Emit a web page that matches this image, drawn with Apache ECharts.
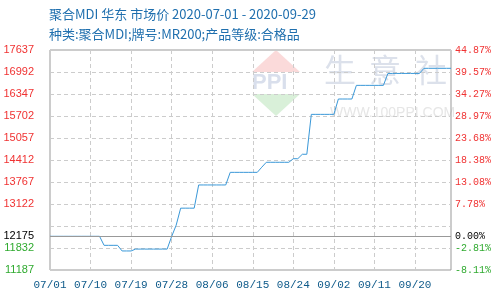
<!DOCTYPE html>
<html>
<head>
<meta charset="utf-8">
<script src="https://cdn.jsdelivr.net/npm/echarts@6/dist/echarts.min.js"></script>
<style>
html,body{margin:0;padding:0;background:#fff;}
#c{width:500px;height:300px;}
</style>
</head>
<body>
<div id="c"></div>
<script>
var titleText = '聚合MDI 华东 市场价 2020-07-01 - 2020-09-29';
var subText = '种类:聚合MDI;牌号:MR200;产品等级:合格品';

var categories = [
 '07/01','07/02','07/03','07/04','07/05','07/06','07/07','07/08','07/09','07/10',
 '07/11','07/12','07/13','07/14','07/15','07/16','07/17','07/18','07/19','07/20',
 '07/21','07/22','07/23','07/24','07/25','07/26','07/27','07/28','07/29','07/30','07/31',
 '08/01','08/02','08/03','08/04','08/05','08/06','08/07','08/08','08/09','08/10',
 '08/11','08/12','08/13','08/14','08/15','08/16','08/17','08/18','08/19','08/20',
 '08/21','08/22','08/23','08/24','08/25','08/26','08/27','08/28','08/29','08/30','08/31',
 '09/01','09/02','09/03','09/04','09/05','09/06','09/07','09/08','09/09','09/10',
 '09/11','09/12','09/13','09/14','09/15','09/16','09/17','09/18','09/19','09/20',
 '09/21','09/22','09/23','09/24','09/25','09/26','09/27','09/28'
];

var prices = [
 12175,12175,12175,12175,12175,12175,12175,12175,12175,12175,12175,12175,
 11910,11910,11910,11910,
 11745,11745,11745,
 11800,11800,11800,11800,11800,11800,11800,11800,
 12170,
 12500,
 13000,13000,13000,13000,
 13680,13680,13680,13680,13680,13680,13680,
 14050,14050,14050,14050,14050,14050,14050,
 14200,
 14345,14345,14345,14345,14345,14345,
 14450,14450,
 14580,14580,
 15750,15750,15750,15750,15750,15750,
 16200,16200,16200,16200,
 16600,16600,16600,16600,16600,16600,16600,
 16950,16950,16950,16950,16950,16950,16950,16950,
 17100,17100,17100,17100,17100,17100,17100
];

var basePrice = 12175;
var basePriceLabel = '12175';
var basePctLabel = '0.00%';
var yMin = 11187, yMax = 17637, yStep = 645;
var leftTickLabels = ['11187','11832','','13122','13767','14412','15057','15702','16347','16992','17637'];
var rightTickLabels = ['-8.11%','-2.81%','','7.78%','13.08%','18.38%','23.68%','28.97%','34.27%','39.57%','44.87%'];

var RED = '#f03232', GREEN = '#2faa2f', BLACK = '#000';
function tickIdx(v){ return Math.round((Number(v) - yMin) / yStep); }
function tickColor(v){ v = Number(v); return v > basePrice ? RED : (v < basePrice ? GREEN : BLACK); }

var chart = echarts.init(document.getElementById('c'), null, {renderer:'canvas'});
var lblFont = 'Liberation Sans';
var monoFont = 'Liberation Mono';
var wmFont = '32px "Noto Sans CJK SC"';
var titleColor = '#1f6fae';

chart.setOption({
  animation: false,
  backgroundColor: '#fff',
  graphic: [
    {type:'polygon', z:-10, silent:true, shape:{points:[[252,72],[276,50],[300,72]]}, style:{fill:'#fbdada'}},
    {type:'polygon', z:-10, silent:true, shape:{points:[[252,94],[276,116],[300,94]]}, style:{fill:'#d9f0d9'}},
    {type:'text', z:-10, silent:true, left:252, top:72, style:{text:'PPI', font:'bold 22px "Liberation Sans"', fill:'#d9dfec'}},
    {type:'text', z:-10, silent:true, left:324, top:54, style:{text:'生', font:wmFont, fill:'#dce1eb'}},
    {type:'text', z:-10, silent:true, left:369, top:54, style:{text:'意', font:wmFont, fill:'#dce1eb'}},
    {type:'text', z:-10, silent:true, left:415, top:54, style:{text:'社', font:wmFont, fill:'#dce1eb'}},
    {type:'text', z:-10, silent:true, left:330, top:106, style:{text:'WWW.100PPI.COM', font:'14px "Liberation Sans"', fill:'#e6e6e6'}},
    {type:'text', z:10, silent:true, left:49, top:8, style:{text:titleText, font:'13px "Noto Sans CJK SC"', fill:titleColor}},
    {type:'text', z:10, silent:true, left:49, top:28, style:{text:subText, font:'13px "Noto Sans CJK SC"', fill:titleColor}}
  ],
  grid: {left:50, right:49, top:50, bottom:30, show:true, borderColor:'#999', borderWidth:1, backgroundColor:'transparent'},
  xAxis: {
    type:'category', data: categories, boundaryGap:false,
    axisLine:{show:false}, axisTick:{show:false},
    axisLabel:{interval:8, color:'#0e5a8a', fontFamily:monoFont, fontSize:11, margin:10},
    splitLine:{show:true, interval:8, lineStyle:{color:'#ccc', type:[4,3]}}
  },
  yAxis: [
    {
      type:'value', min:yMin, max:yMax, interval:yStep, position:'left',
      axisLine:{show:false}, axisTick:{show:false},
      axisLabel:{margin:16, fontFamily:lblFont, fontSize:11,
        formatter:function(v){ return leftTickLabels[tickIdx(v)] || ''; },
        color:function(v){ return tickColor(v); }},
      splitLine:{show:true, lineStyle:{color:'#ccc', type:[4,3]}}
    },
    {
      type:'value', min:yMin, max:yMax, interval:yStep, position:'right',
      axisLine:{show:false}, axisTick:{show:false},
      axisLabel:{margin:4, fontFamily:monoFont, fontSize:10,
        formatter:function(v){ return rightTickLabels[tickIdx(v)] || ''; },
        color:function(v){ return tickColor(v); }},
      splitLine:{show:false}
    }
  ],
  series: [{
    type:'line', data: prices, showSymbol:false, symbol:'none',
    lineStyle:{color:'#3a98d8', width:1},
    markLine:{
      silent:true, symbol:'none', animation:false,
      lineStyle:{color:'#999', type:'solid', width:1},
      data:[
        {yAxis: basePrice, label:{show:true, position:'start', distance:16, formatter: basePriceLabel, color:BLACK, fontFamily:lblFont, fontSize:11}},
        {yAxis: basePrice, label:{show:true, position:'end', distance:4, formatter: basePctLabel, color:BLACK, fontFamily:monoFont, fontSize:10}}
      ]
    }
  }]
});
</script>
</body>
</html>
